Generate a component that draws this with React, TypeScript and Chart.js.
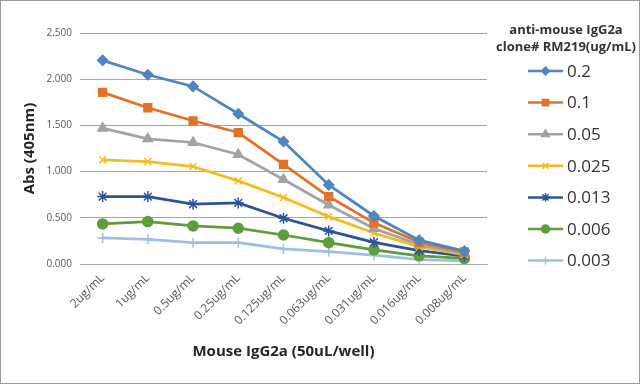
import React, { useEffect, useRef } from "react";
import { Chart, registerables } from "chart.js";
import { drawPoint } from "chart.js/helpers";

Chart.register(...registerables);

const categories = ["2ug/mL", "1ug/mL", "0.5ug/mL", "0.25ug/mL", "0.125ug/mL", "0.063ug/mL", "0.031ug/mL", "0.016ug/mL", "0.008ug/mL"];
const seriesLabels = ["0.2", "0.1", "0.05", "0.025", "0.013", "0.006", "0.003"];
const s02 = [2.204, 2.048, 1.922, 1.626, 1.326, 0.856, 0.52, 0.258, 0.14];
const s01 = [1.857, 1.691, 1.55, 1.423, 1.077, 0.73, 0.445, 0.235, 0.13];
const s005 = [1.47, 1.355, 1.315, 1.185, 0.914, 0.639, 0.385, 0.21, 0.115];
const s0025 = [1.127, 1.109, 1.055, 0.9, 0.719, 0.513, 0.335, 0.185, 0.1];
const s0013 = [0.73, 0.73, 0.647, 0.661, 0.495, 0.358, 0.235, 0.145, 0.085];
const s0006 = [0.434, 0.459, 0.412, 0.387, 0.314, 0.231, 0.153, 0.088, 0.06];
const s0003 = [0.282, 0.267, 0.231, 0.231, 0.163, 0.134, 0.095, 0.048, 0.035];
const seriesValues = [s02, s01, s005, s0025, s0013, s0006, s0003];
const yTicks = [0, 0.5, 1.0, 1.5, 2.0, 2.5];
const legendTitle = ["anti-mouse IgG2a", "clone# RM219(ug/mL)"];
const xTitle = "Mouse IgG2a (50uL/well)";
const yTitle = "Abs (405nm)";

const colors = ["#4E86C0", "#E27129", "#A3A3A3", "#F5BC22", "#2C5498", "#5E9D3C", "#9DC0E2"];
const markers = ["rectRot", "rect", "triangle", "crossRot", "star", "circle", "cross"];
const markerRadius = [5, 5.5, 5.5, 5, 5.5, 5, 5];

const FONT = "'Open Sans', 'Noto Sans', sans-serif";

const legendPlugin = {
  id: "customLegend",
  afterDraw(chart: any) {
    const ctx = chart.ctx;
    ctx.save();
    ctx.fillStyle = "#333333";
    ctx.font = `bold 13px ${FONT}`;
    ctx.textAlign = "center";
    ctx.textBaseline = "middle";
    legendTitle.forEach((t, i) => ctx.fillText(t, 565, 29 + i * 17));
    chart.data.datasets.forEach((ds: any, i: number) => {
      const y = 70 + i * 31.6;
      ctx.strokeStyle = ds.borderColor;
      ctx.lineWidth = 2.5;
      ctx.beginPath();
      ctx.moveTo(527, y);
      ctx.lineTo(562, y);
      ctx.stroke();
      ctx.fillStyle = ds.pointBackgroundColor;
      ctx.strokeStyle = ds.pointBorderColor;
      ctx.lineWidth = 1.5;
      drawPoint(ctx, { pointStyle: ds.pointStyle, radius: ds.pointRadius * 0.8, borderWidth: 1.5, rotation: 0 }, 544.5, y);
      ctx.fillStyle = "#333333";
      ctx.font = `17px ${FONT}`;
      ctx.textAlign = "left";
      ctx.fillText(ds.label, 566, y + 1);
    });
    ctx.restore();
  },
};

export default function App() {
  const ref = useRef<HTMLCanvasElement>(null);
  useEffect(() => {
    document.body.style.margin = "0";
    const chart = new Chart(ref.current!, {
      type: "line",
      data: {
        labels: categories,
        datasets: seriesValues.map((vals, i) => ({
          label: seriesLabels[i],
          data: vals,
          borderColor: colors[i],
          backgroundColor: colors[i],
          pointBackgroundColor: colors[i],
          pointBorderColor: colors[i],
          pointStyle: markers[i],
          pointRadius: markerRadius[i],
          pointBorderWidth: 1.5,
          borderWidth: 2.75,
          tension: 0,
          fill: false,
        })),
      },
      options: {
        animation: false,
        responsive: false,
        maintainAspectRatio: false,
        layout: { padding: { top: 32, right: 152, bottom: 0, left: 0 } },
        plugins: { legend: { display: false }, tooltip: { enabled: false }, title: { display: false } },
        scales: {
          x: {
            type: "category",
            offset: true,
            grid: { display: false, drawTicks: false },
            border: { display: true, color: "#a6a6a6", width: 1 },
            ticks: {
              maxRotation: 45,
              minRotation: 45,
              autoSkip: false,
              color: "#595959",
              font: { family: FONT, size: 12 },
              padding: 7,
            },
            title: {
              display: true,
              text: xTitle,
              color: "#262626",
              font: { family: FONT, size: 15, weight: "bold" },
              padding: { top: 0, bottom: 22 },
            },
            afterFit(scale: any) {
              scale.height = 119;
            },
          },
          y: {
            min: 0,
            max: 2.5,
            afterBuildTicks(scale: any) {
              scale.ticks = yTicks.map((v) => ({ value: v }));
            },
            grid: { color: "#a6a6a6", lineWidth: 1, drawTicks: false },
            border: { display: false },
            ticks: {
              color: "#595959",
              font: { family: FONT, size: 10 },
              padding: 8,
              callback: (v: any) => Number(v).toFixed(3),
            },
            title: {
              display: true,
              text: yTitle,
              color: "#262626",
              font: { family: FONT, size: 15, weight: "bold" },
              padding: { top: 20, bottom: 0 },
            },
            afterFit(scale: any) {
              scale.width = 79;
            },
          },
        },
      },
      plugins: [legendPlugin],
    } as any);
    return () => chart.destroy();
  }, []);
  return (
    <div style={{ width: 640, height: 384, boxSizing: "border-box", border: "1px solid #9a9a9a", background: "#fff" }}>
      <canvas ref={ref} width={638} height={382} style={{ display: "block", width: 638, height: 382 }} />
    </div>
  );
}
